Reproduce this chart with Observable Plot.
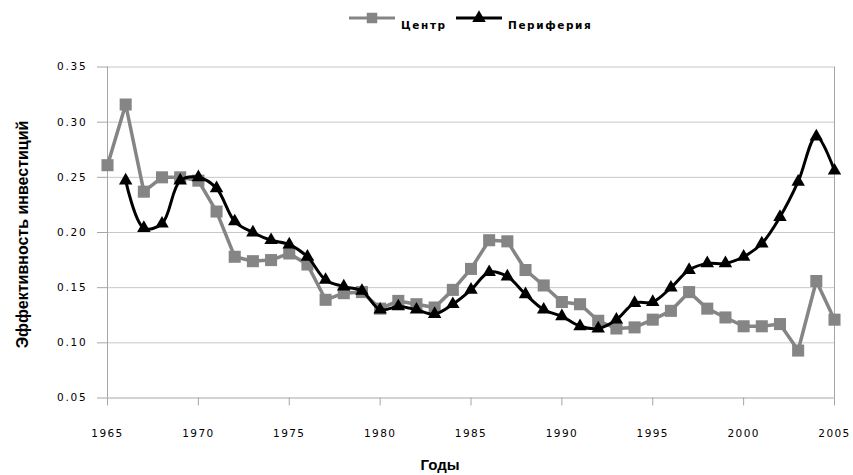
<!DOCTYPE html>
<html>
<head>
<meta charset="utf-8">
<script src="https://cdn.jsdelivr.net/npm/d3@7"></script>
<script src="https://cdn.jsdelivr.net/npm/@observablehq/plot@0.6"></script>
<style>
  html, body { margin: 0; padding: 0; background: #fff; }
  #wrap { position: relative; width: 853px; height: 475px; overflow: hidden; }
  #legend { position: absolute; left: 0; top: 0; width: 853px; height: 40px; }
  .li { position: absolute; top: 8px; display: flex; align-items: flex-start; }
  .li svg { display: block; }
  .li span { font-family: "DejaVu Sans", sans-serif; font-weight: bold; font-size: 10.5px; letter-spacing: 1.6px; color: #000; margin-top: 11px; margin-left: 6px; }
  #chart { position: absolute; left: 0; top: 40px; }
  #chart svg g[aria-label="y-axis tick"], #chart svg g[aria-label="x-axis tick"] { stroke: #a6a6a6; }
  #chart svg g[aria-label="y-axis tick label"] text { letter-spacing: 1.8px; }
  #chart svg g[aria-label="x-axis tick label"] text { letter-spacing: 1.4px; }
</style>
</head>
<body>
<div id="wrap">
  <div id="legend"></div>
  <div id="chart"></div>
</div>
<script>
// ---- Data ----
const centreYears = [1965,1966,1967,1968,1969,1970,1971,1972,1973,1974,1975,1976,1977,1978,1979,1980,1981,1982,1983,1984,1985,1986,1987,1988,1989,1990,1991,1992,1993,1994,1995,1996,1997,1998,1999,2000,2001,2002,2003,2004,2005];
const centreValues = [0.261,0.316,0.237,0.250,0.250,0.247,0.219,0.178,0.174,0.175,0.181,0.171,0.139,0.145,0.146,0.131,0.138,0.135,0.132,0.148,0.167,0.193,0.192,0.166,0.152,0.137,0.135,0.120,0.113,0.114,0.121,0.129,0.146,0.131,0.123,0.115,0.115,0.117,0.093,0.156,0.121];
const periphYears = [1966,1967,1968,1969,1970,1971,1972,1973,1974,1975,1976,1977,1978,1979,1980,1981,1982,1983,1984,1985,1986,1987,1988,1989,1990,1991,1992,1993,1994,1995,1996,1997,1998,1999,2000,2001,2002,2003,2004,2005];
const periphValues = [0.247,0.204,0.208,0.247,0.250,0.240,0.210,0.200,0.193,0.189,0.178,0.157,0.151,0.147,0.130,0.133,0.130,0.126,0.135,0.148,0.164,0.160,0.144,0.130,0.124,0.115,0.113,0.121,0.136,0.137,0.150,0.166,0.172,0.172,0.178,0.190,0.214,0.246,0.287,0.256];
const seriesNames = ["Центр", "Периферия"];
const xTicks = [1965,1970,1975,1980,1985,1990,1995,2000,2005];
const yTicks = [0.05,0.10,0.15,0.20,0.25,0.30,0.35];
const xTitle = "Годы";
const yTitle = "Эффективность инвестиций";

const centre = centreYears.map((y, i) => ({year: y, value: centreValues[i]}));
const periph = periphYears.map((y, i) => ({year: y, value: periphValues[i]}));

const GRAY = "#858585";
const AXIS = "#a6a6a6";
const GRID = "#c8c8c8";

// ---- Legend ----
const legend = document.getElementById("legend");
function legendItem(left, name, color, symbol) {
  const d = document.createElement("div");
  d.className = "li";
  d.style.left = left + "px";
  const ns = "http://www.w3.org/2000/svg";
  const s = document.createElementNS(ns, "svg");
  s.setAttribute("width", 46); s.setAttribute("height", 20);
  const l = document.createElementNS(ns, "line");
  l.setAttribute("x1", 0); l.setAttribute("x2", 46); l.setAttribute("y1", 10); l.setAttribute("y2", 10);
  l.setAttribute("stroke", color); l.setAttribute("stroke-width", 3);
  s.appendChild(l);
  const p = document.createElementNS(ns, "path");
  p.setAttribute("transform", "translate(23,10)");
  p.setAttribute("d", d3.symbol(symbol === "square" ? d3.symbolSquare : d3.symbolTriangle, symbol === "square" ? 110 : 80)());
  p.setAttribute("fill", color);
  s.appendChild(p);
  d.appendChild(s);
  const t = document.createElement("span");
  t.textContent = name;
  d.appendChild(t);
  legend.appendChild(d);
}
legendItem(349, seriesNames[0], GRAY, "square");
legendItem(456, seriesNames[1], "#000", "triangle");

// ---- Chart ----
const W = 853, H = 435;
const chart = Plot.plot({
  width: W,
  height: H,
  marginTop: 26.5,
  marginBottom: 77.5,
  marginLeft: 107,
  marginRight: 19,
  style: {fontFamily: "DejaVu Sans, sans-serif", fontSize: "10.5px", color: "#000", background: "#fff"},
  x: {domain: [xTicks[0], xTicks[xTicks.length - 1]], label: null},
  y: {domain: [yTicks[0], yTicks[yTicks.length - 1]], label: null},
  marks: [
    Plot.gridY(yTicks.slice(1), {stroke: GRID, strokeOpacity: 1}),
    Plot.ruleX([xTicks[0]], {stroke: AXIS}),
    Plot.ruleX([xTicks[xTicks.length - 1]], {stroke: AXIS}),
    Plot.ruleY([yTicks[0]], {stroke: AXIS}),
    Plot.axisY(yTicks, {tickSize: 10, tickPadding: 10, tickFormat: d3.format(".2f"), label: null}),
    Plot.axisX(xTicks, {tickSize: 8, tickPadding: 24, tickFormat: d => String(d), label: null}),
    Plot.line(centre, {x: "year", y: "value", stroke: GRAY, strokeWidth: 3.5}),
    Plot.dot(centre, {x: "year", y: "value", symbol: "square", r: 6.8, fill: GRAY}),
    Plot.line(periph, {x: "year", y: "value", stroke: "#000", strokeWidth: 3, curve: "catmull-rom"}),
    Plot.dot(periph, {x: "year", y: "value", symbol: "triangle", r: 5, fill: "#000"}),
    Plot.text([xTitle], {frameAnchor: "bottom", textAnchor: "middle", dx: -31, dy: 67, lineAnchor: "middle", fontSize: 15, fontWeight: "bold", fontFamily: "Liberation Sans, Arial, sans-serif"}),
    Plot.text([yTitle], {frameAnchor: "left", textAnchor: "middle", rotate: -90, dx: -85, dy: 2, lineAnchor: "middle", fontSize: 16, fontWeight: "bold", fontFamily: "Liberation Sans, Arial, sans-serif"})
  ]
});
document.getElementById("chart").appendChild(chart);
</script>
</body>
</html>
